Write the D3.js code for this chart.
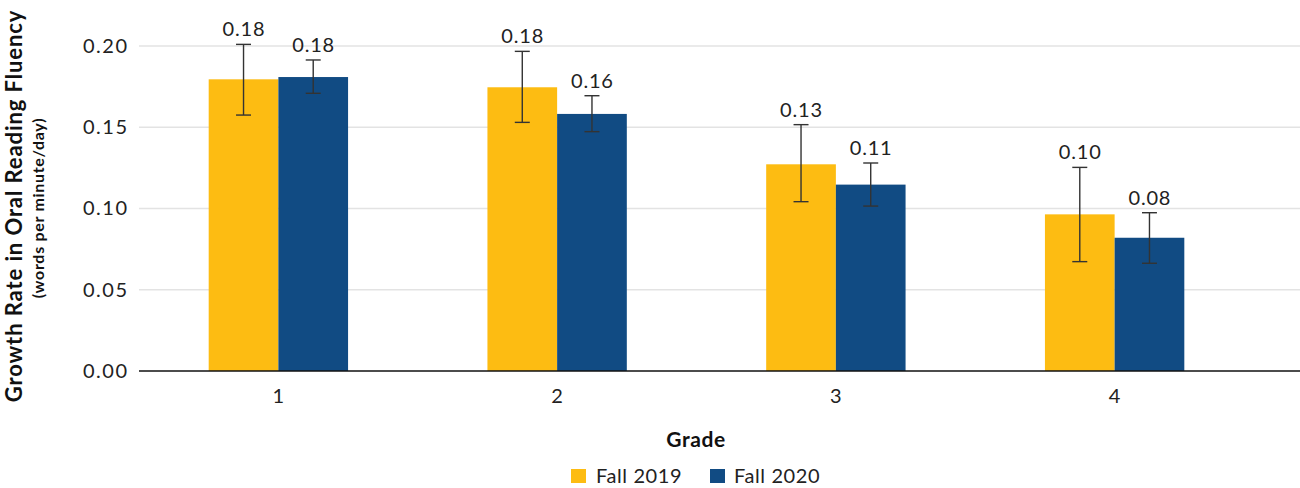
<!DOCTYPE html>
<html><head><meta charset="utf-8">
<script src="https://cdn.jsdelivr.net/npm/d3@7"></script>
<style>body{margin:0;background:#fff}svg{display:block}text{font-family:Lato,"Open Sans",sans-serif}</style>
</head><body>
<svg id="c" width="1300" height="488"></svg>
<script>
const grades = ["1","2","3","4"];
const series = ["Fall 2019","Fall 2020"];
const fall2019 = [0.1795,0.1746,0.1272,0.0964];
const fall2020 = [0.1809,0.1582,0.1147,0.0820];
const fall2019Hi = [0.2010,0.1967,0.1516,0.1253];
const fall2019Lo = [0.1575,0.1530,0.1042,0.0673];
const fall2020Hi = [0.1914,0.1694,0.1280,0.0974];
const fall2020Lo = [0.1709,0.1473,0.1015,0.0663];
const labels2019 = ["0.18","0.18","0.13","0.10"];
const labels2020 = ["0.18","0.16","0.11","0.08"];
const yTicks = [0,0.05,0.10,0.15,0.20];
const colors = ["#FDBC12","#114B83"];

(function(){
const svg = d3.select("#c");
const W = 1300, mLeft = 139, mRight = 1254, mTop = 46, mBottom = 371;
const x = d3.scaleBand().domain(grades).range([mLeft,mRight]).paddingInner(0).paddingOuter(0);
const xs = d3.scaleBand().domain(series).range([0,x.bandwidth()*0.5]);
const y = d3.scaleLinear().domain([0,0.20]).range([mBottom,mTop]);

// gridlines
svg.append("g").selectAll("line").data(yTicks.filter(d=>d>0)).join("line")
  .attr("x1",mLeft).attr("x2",W).attr("y1",d=>y(d)).attr("y2",d=>y(d))
  .attr("stroke","#e3e3e3").attr("stroke-width",1.5);

// y axis labels
const yAxis = d3.axisLeft(y).tickValues(yTicks).tickFormat(d3.format(".2f")).tickSize(0).tickPadding(10.5);
const ya = svg.append("g").attr("transform",`translate(${mLeft},0)`).call(yAxis);
ya.select(".domain").remove();
ya.selectAll("text").attr("font-size",20).attr("letter-spacing",1.5).attr("fill","#222").attr("font-family","Lato");

const data = grades.map((g,i)=>[
  {g, s:series[0], v:fall2019[i], hi:fall2019Hi[i], lo:fall2019Lo[i], lab:labels2019[i], c:colors[0]},
  {g, s:series[1], v:fall2020[i], hi:fall2020Hi[i], lo:fall2020Lo[i], lab:labels2020[i], c:colors[1]}
]).flat();
const off = x.bandwidth()*0.25;
const bx = d => x(d.g)+off+xs(d.s);
const cx = d => bx(d)+xs.bandwidth()/2;

svg.append("g").selectAll("rect").data(data).join("rect")
  .attr("x",bx).attr("width",xs.bandwidth()).attr("y",d=>y(d.v)).attr("height",d=>y(0)-y(d.v))
  .attr("fill",d=>d.c);

// error bars
const eb = svg.append("g").attr("stroke","#333").attr("stroke-width",1.4);
eb.selectAll(".v").data(data).join("line").attr("class","v").attr("x1",cx).attr("x2",cx).attr("y1",d=>y(d.hi)).attr("y2",d=>y(d.lo));
eb.selectAll(".t").data(data).join("line").attr("class","t").attr("x1",d=>cx(d)-7.5).attr("x2",d=>cx(d)+7.5).attr("y1",d=>y(d.hi)).attr("y2",d=>y(d.hi));
eb.selectAll(".b").data(data).join("line").attr("class","b").attr("x1",d=>cx(d)-7.5).attr("x2",d=>cx(d)+7.5).attr("y1",d=>y(d.lo)).attr("y2",d=>y(d.lo));

// value labels
svg.append("g").selectAll("text").data(data).join("text")
  .attr("x",d=>cx(d)+0.4).attr("y",d=>y(d.hi)-8).attr("text-anchor","middle")
  .attr("font-size",20).attr("letter-spacing",0.8).attr("fill","#222").text(d=>d.lab);

// x axis
svg.append("line").attr("x1",mLeft).attr("x2",W).attr("y1",mBottom).attr("y2",mBottom).attr("stroke","#111").attr("stroke-width",1.5);
const xa = svg.append("g").attr("transform",`translate(0,${mBottom})`).call(d3.axisBottom(x).tickSize(0));
xa.select(".domain").remove();
xa.selectAll("text").attr("y",32).attr("dy",null).attr("font-size",20).attr("fill","#222").attr("font-family","Lato");

// titles
svg.append("text").attr("transform","translate(22,206) rotate(-90)").attr("text-anchor","middle")
  .attr("font-size",22).attr("letter-spacing",0.9).attr("font-weight","bold").attr("fill","#111").text("Growth Rate in Oral Reading Fluency");
svg.append("text").attr("transform","translate(44,208) rotate(-90)").attr("text-anchor","middle")
  .attr("font-size",16).attr("letter-spacing",0.7).attr("font-weight","bold").attr("fill","#111").text("(words per minute/day)");
svg.append("text").attr("x",696).attr("y",447).attr("text-anchor","middle")
  .attr("font-size",21).attr("letter-spacing",0.6).attr("font-weight","bold").attr("fill","#111").text("Grade");

// legend
const legX = [571,710];
const lg = svg.append("g").selectAll("g").data(series).join("g").attr("transform",(d,i)=>`translate(${legX[i]},469)`);
lg.append("rect").attr("width",15).attr("height",14).attr("fill",(d,i)=>colors[i]);
lg.append("text").attr("x",(d,i)=>i===0?25:24).attr("y",14).attr("font-size",20).attr("letter-spacing",0.6).attr("fill","#222").text(d=>d);
})();
</script>
</body></html>
